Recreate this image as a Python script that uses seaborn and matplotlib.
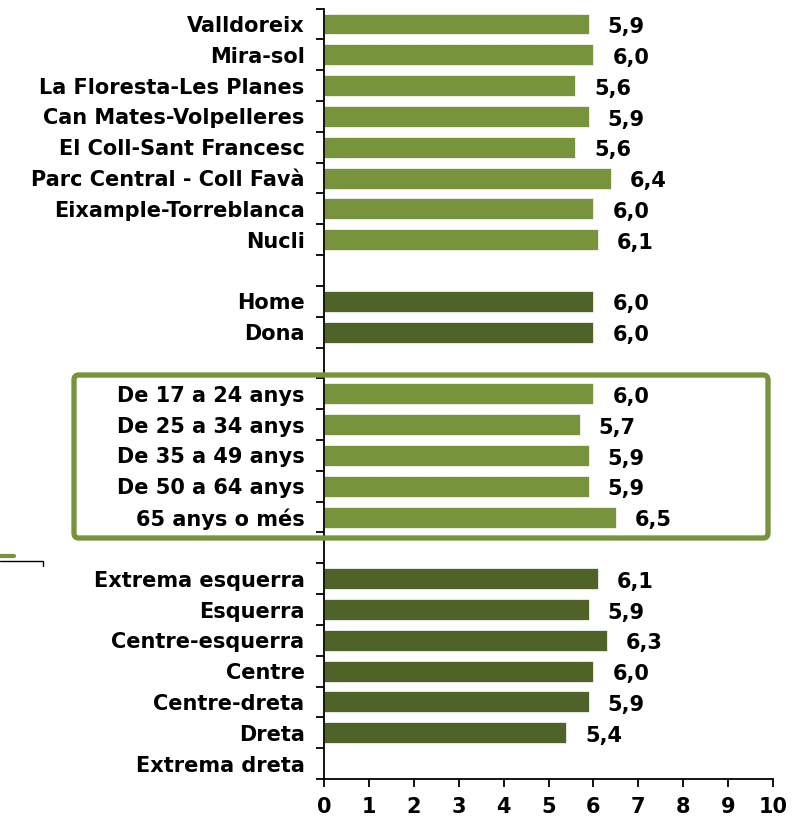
import numpy as np
import pandas as pd
import matplotlib.pyplot as plt
import seaborn as sns
from matplotlib.patches import FancyBboxPatch
from matplotlib.lines import Line2D
from matplotlib.ticker import FixedLocator

# dades
barris = ['Valldoreix', 'Mira-sol', 'La Floresta-Les Planes', 'Can Mates-Volpelleres',
          'El Coll-Sant Francesc', 'Parc Central - Coll Favà', 'Eixample-Torreblanca', 'Nucli']
val_barris = [5.9, 6.0, 5.6, 5.9, 5.6, 6.4, 6.0, 6.1]

sexe = ['Home', 'Dona']
val_sexe = [6.0, 6.0]

edat = ['De 17 a 24 anys', 'De 25 a 34 anys', 'De 35 a 49 anys', 'De 50 a 64 anys', '65 anys o més']
val_edat = [6.0, 5.7, 5.9, 5.9, 6.5]

ideologia = ['Extrema esquerra', 'Esquerra', 'Centre-esquerra', 'Centre', 'Centre-dreta',
             'Dreta', 'Extrema dreta']
val_ideologia = [6.1, 5.9, 6.3, 6.0, 5.9, 5.4, np.nan]

verd_clar = '#77933C'
verd_fosc = '#4F6228'

df = pd.concat([
    pd.DataFrame({'cat': barris, 'val': val_barris, 'grup': 'barri'}),
    pd.DataFrame({'cat': sexe, 'val': val_sexe, 'grup': 'sexe'}),
    pd.DataFrame({'cat': edat, 'val': val_edat, 'grup': 'edat'}),
    pd.DataFrame({'cat': ideologia, 'val': val_ideologia, 'grup': 'ideologia'}),
], ignore_index=True)

ordre = barris + [' '] + sexe + ['  '] + edat + ['   '] + ideologia
paleta = {'barri': verd_clar, 'sexe': verd_fosc, 'edat': verd_clar, 'ideologia': verd_fosc}

sns.set_style('white')
plt.rcParams['font.family'] = ['DejaVu Sans']
plt.rcParams['text.color'] = 'black'
plt.rcParams['xtick.color'] = 'black'
plt.rcParams['ytick.color'] = 'black'

fig = plt.figure(figsize=(7.93, 8.22), dpi=100)
ax = fig.add_axes([324/793, 1-779/822, 449/793, (779-8.6)/822])

sns.barplot(data=df, x='val', y='cat', hue='grup', order=ordre, palette=paleta,
            dodge=False, width=0.68, legend=False, orient='h', ax=ax, saturation=1,
            edgecolor='white', linewidth=0.5)

ax.set_xlim(0, 10)
ax.set_ylim(len(ordre) - 0.5, -0.5)
ax.set_xticks(range(0, 11))
ax.set_xlabel('')
ax.set_ylabel('')

for s in ['top', 'right']:
    ax.spines[s].set_visible(False)
for s in ['left', 'bottom']:
    ax.spines[s].set_color('black')
    ax.spines[s].set_linewidth(1.3)

ax.tick_params(axis='x', bottom=True, direction='out', length=6, width=1.3,
               labelsize=15, pad=7, labelcolor='black')
ax.tick_params(axis='y', which='major', left=True, length=0, labelsize=15, pad=14,
               labelcolor='black')
ax.yaxis.set_minor_locator(FixedLocator(np.arange(-0.5, len(ordre), 1.0)))
ax.tick_params(axis='y', which='minor', left=True, direction='out', length=6, width=1.3)
for t in ax.get_xticklabels() + ax.get_yticklabels():
    t.set_fontweight('bold')

# etiquetes de valor
pos = {c: i for i, c in enumerate(ordre)}
for c, v in zip(df['cat'], df['val']):
    if np.isnan(v):
        continue
    ax.text(v + 0.42, pos[c] + 0.1, f'{v:.1f}'.replace('.', ','), ha='left', va='center',
            fontsize=15, fontweight='bold', color='black')

# requadre grups d'edat
caixa = FancyBboxPatch((74/793, 1-538/822), (768-74)/793, (538-375)/822,
                       boxstyle='round,pad=0,rounding_size=0.006',
                       transform=fig.transFigure, fill=False,
                       edgecolor=verd_clar, linewidth=3.8)
fig.patches.append(caixa)

# resta de llegenda a baix a l'esquerra
fig.lines.append(Line2D([0, 14/793], [1-556/822, 1-556/822], transform=fig.transFigure,
                        color=verd_clar, linewidth=3))
fig.lines.append(Line2D([0, 43/793, 43/793], [1-561/822, 1-561/822, 1-566/822],
                        transform=fig.transFigure, color='black', linewidth=1))

fig.savefig('out.png', dpi=100)
